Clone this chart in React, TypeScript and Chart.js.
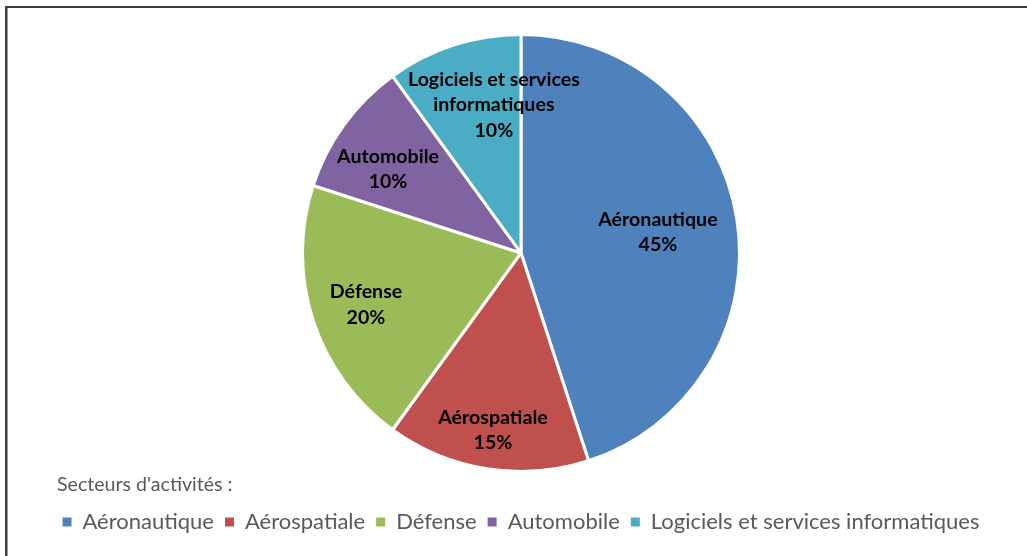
import React, { useEffect, useRef } from "react";
import { Chart, registerables } from "chart.js";

Chart.register(...registerables);

// ---- data ----
const categories: string[] = [
  "Aéronautique",
  "Aérospatiale",
  "Défense",
  "Automobile",
  "Logiciels et services informatiques",
];
const shares: number[] = [45, 15, 20, 10, 10];
const sliceLabelLines: string[][] = [
  ["Aéronautique"],
  ["Aérospatiale"],
  ["Défense"],
  ["Automobile"],
  ["Logiciels et services", "informatiques"],
];
const legendTitle = "Secteurs d'activités :";

// ---- styles ----
const COLORS = ["#4F81BD", "#C0504D", "#9BBB59", "#8064A2", "#4BACC6"];
// [radius fraction, angle offset in degrees] for slice labels
const LABEL_PLACEMENT: [number, number][] = [
  [0.634, 0.3],
  [0.82, 0],
  [0.748, -0.5],
  [0.72, -3.7],
  [0.688, 7.6],
];
const FONT = "Lato, 'Open Sans', sans-serif";

const sliceLabelPlugin = {
  id: "sliceLabels",
  afterDatasetsDraw(chart: any) {
    const ctx = chart.ctx;
    const meta = chart.getDatasetMeta(0);
    ctx.save();
    ctx.font = `bold 19.6px ${FONT}`;
    ctx.fillStyle = "#000000";
    ctx.textAlign = "center";
    ctx.textBaseline = "middle";
    const lineH = 25.5;
    meta.data.forEach((arc: any, i: number) => {
      const p = arc.getProps(["x", "y", "startAngle", "endAngle", "outerRadius"], true);
      const [frac, offDeg] = LABEL_PLACEMENT[i];
      const mid = (p.startAngle + p.endAngle) / 2 + (offDeg * Math.PI) / 180;
      const r = p.outerRadius * frac;
      const cx = p.x + Math.cos(mid) * r;
      const cy = p.y + Math.sin(mid) * r;
      const lines = [...sliceLabelLines[i], `${shares[i]}%`];
      lines.forEach((t, k) => {
        ctx.fillText(t, cx, cy + (k - (lines.length - 1) / 2) * lineH);
      });
    });
    ctx.restore();
  },
};

export default function App() {
  const canvasRef = useRef<HTMLCanvasElement | null>(null);

  useEffect(() => {
    document.body.style.margin = "0";
    const canvas = canvasRef.current;
    if (!canvas) return;
    const baseGen = (Chart as any).overrides.pie.plugins.legend.labels.generateLabels;
    const chart = new Chart(canvas, {
      type: "pie",
      data: {
        labels: categories,
        datasets: [
          {
            data: shares,
            backgroundColor: COLORS,
            borderColor: "#FFFFFF",
            borderWidth: 3,
            hoverBorderWidth: 3,
          },
        ],
      },
      options: {
        responsive: false,
        animation: false,
        layout: { padding: { top: 33, left: 15, right: 0, bottom: 13 } },
        plugins: {
          tooltip: { enabled: false },
          legend: {
            position: "bottom",
            align: "center",
            title: {
              display: true,
              text: legendTitle,
              position: "start",
              color: "#595959",
              font: { family: FONT, size: 19.6 },
              padding: { top: 1.5, bottom: 2.0, left: 0, right: 0 },
            },
            labels: {
              boxWidth: 9,
              boxHeight: 9,
              padding: 11,
              color: "#595959",
              font: { family: FONT, size: 22 },
              generateLabels: (c: any) =>
                baseGen(c).map((it: any) => ({ ...it, lineWidth: 0 })),
            },
          },
        },
      } as any,
      plugins: [sliceLabelPlugin],
    });
    return () => chart.destroy();
  }, []);

  return (
    <div
      style={{
        position: "relative",
        width: 1027,
        height: 556,
        overflow: "hidden",
        background: "#ffffff",
      }}
    >
      <canvas
        ref={canvasRef}
        width={1027}
        height={556}
        style={{ position: "absolute", left: 0, top: 0, width: 1027, height: 556 }}
      />
      <div
        style={{
          position: "absolute",
          left: 5,
          top: 6,
          width: 1100,
          height: 700,
          borderTop: "2px solid #3c3c3c",
          borderLeft: "2px solid #3c3c3c",
          boxShadow: "inset 1px 0 0 #9a9a9a",
          pointerEvents: "none",
        }}
      />
    </div>
  );
}
